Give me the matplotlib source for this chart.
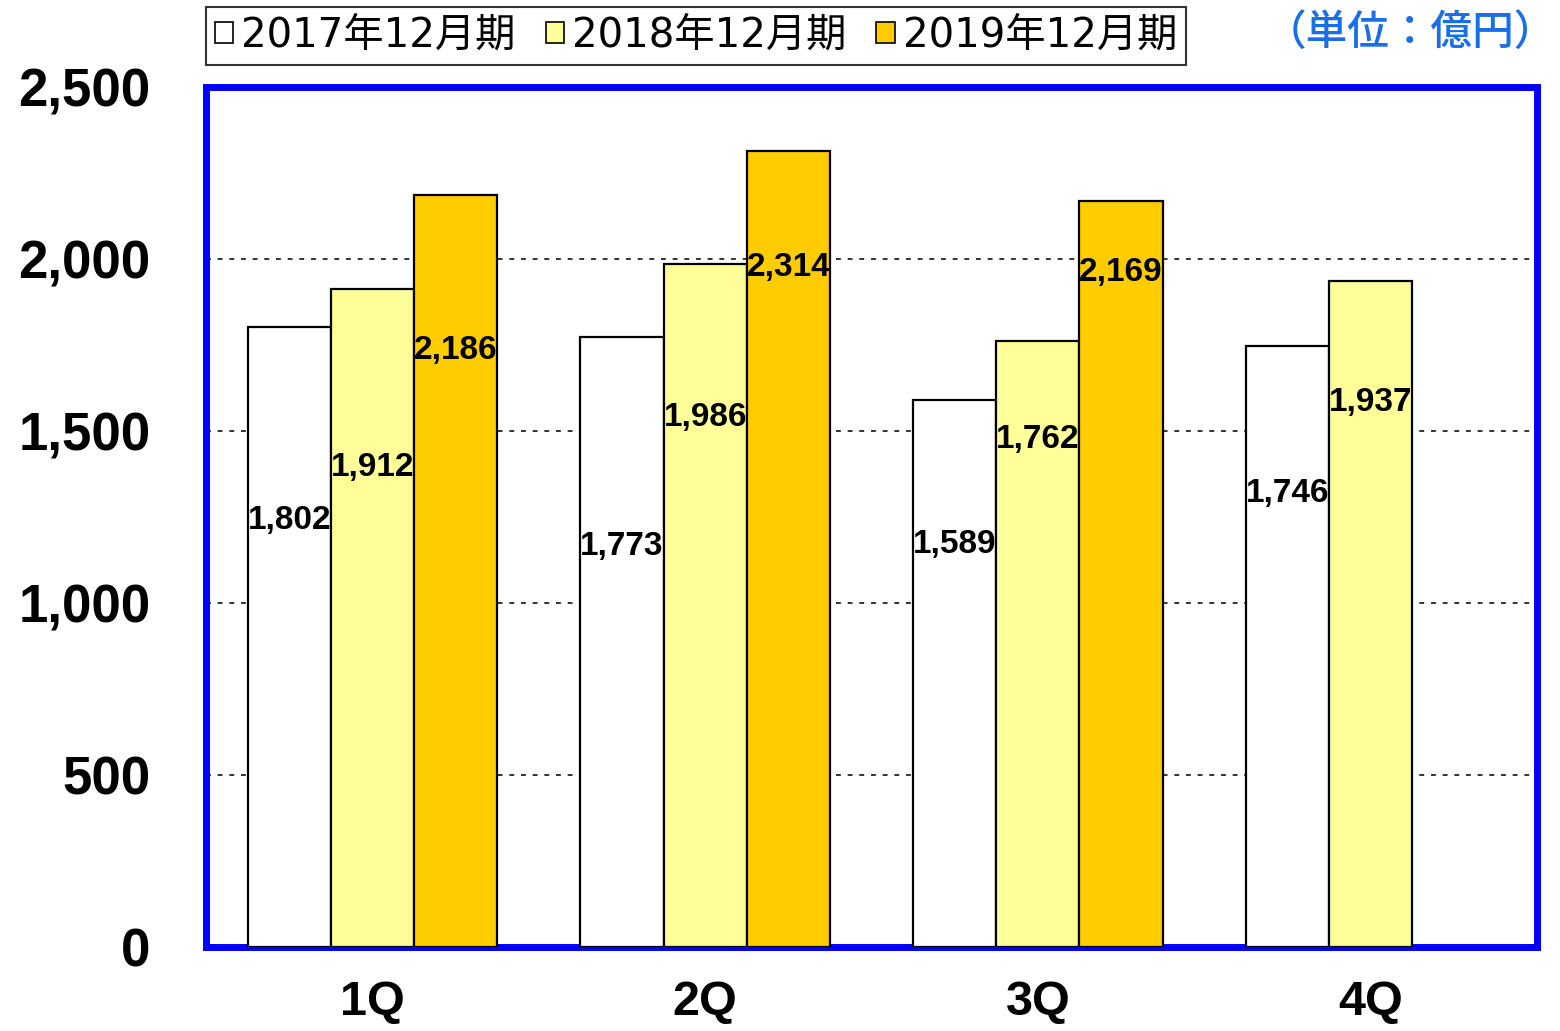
import numpy as np
import matplotlib
matplotlib.use("Agg")
import matplotlib.pyplot as plt
from matplotlib.patches import Patch

plt.rcParams['font.family'] = ['Liberation Sans', 'Noto Sans CJK JP', 'DejaVu Sans']

quarters = ["1Q", "2Q", "3Q", "4Q"]
series_names = ["2017年12月期", "2018年12月期", "2019年12月期"]
v2017 = [1802, 1773, 1589, 1746]
v2018 = [1912, 1986, 1762, 1937]
v2019 = [2186, 2314, 2169, None]
yticks = [0, 500, 1000, 1500, 2000, 2500]

# where the value labels sit (data units, as in the source chart)
lab2017 = [1241, 1163, 1169, 1317]
lab2018 = [1395, 1538, 1474, 1584]
lab2019 = [1735, 1974, 1962, None]

colors = ["#FFFFFF", "#FFFF99", "#FFCC00"]
blue = "#0000FF"

fig = plt.figure(figsize=(15.6, 10.31), dpi=100)
ax = fig.add_axes([206 / 1560, 84 / 1031, 1331 / 1560, 860 / 1031])

x = np.arange(len(quarters))
w = 0.25
for i, (vals, labs) in enumerate(zip([v2017, v2018, v2019], [lab2017, lab2018, lab2019])):
    for j, (v, ly) in enumerate(zip(vals, labs)):
        if v is None:
            continue
        xc = x[j] + (i - 1) * w
        ax.bar(xc, v, width=w, color=colors[i], edgecolor="black", linewidth=1.6, zorder=3)
        ax.text(xc, ly, f"{v:,}", ha="center", va="center", fontsize=24,
                fontweight="bold", zorder=4)

ax.set_xlim(-0.5, len(quarters) - 0.5)
ax.set_ylim(0, 2500)
ax.set_yticks(yticks)
ax.set_yticklabels([f"{t:,}" for t in yticks], fontsize=38, fontweight="bold")
ax.set_xticks(x)
ax.set_xticklabels(quarters, fontsize=35, fontweight="bold")
ax.tick_params(axis="y", length=0, pad=40)
ax.tick_params(axis="x", length=0, pad=24)
for t in yticks[1:-1]:
    ax.axhline(t, color="#333333", linestyle=(0, (2.5, 3.5)), linewidth=1.4, zorder=1)
for s in ax.spines.values():
    s.set_color(blue)
    s.set_linewidth(5)

handles = [Patch(facecolor=c, edgecolor="black", linewidth=1.2) for c in colors]
leg = fig.legend(handles, series_names, loc="upper left",
                 bbox_to_anchor=(206 / 1560, 1 - 7 / 1031), ncol=3,
                 prop={"family": ["DejaVu Sans", "Noto Sans CJK JP"], "size": 29},
                 frameon=True, fancybox=False, edgecolor="black",
                 handlelength=0.45, handleheight=0.45, handletextpad=0.2,
                 columnspacing=0.75, borderpad=0.22, borderaxespad=0)
leg.get_frame().set_linewidth(1.5)

fig.text(1556 / 1560, 1 - 32 / 1031, "（単位：億円）", ha="right", va="center",
         fontsize=30, fontweight="medium", color="#1A6FE8",
         family=["Noto Sans CJK JP", "DejaVu Sans"])

fig.savefig("out.png", dpi=100)
